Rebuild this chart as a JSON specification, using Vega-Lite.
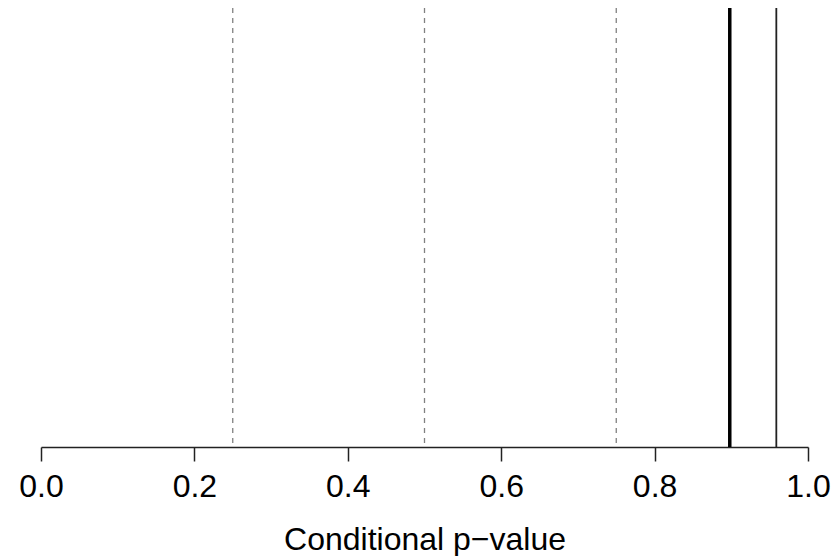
{
  "$schema": "https://vega.github.io/schema/vega-lite/v6.json",
  "autosize": "none",
  "width": 767,
  "height": 439,
  "padding": {"left": 41, "top": 8, "right": 25, "bottom": 109},
  "background": "white",
  "config": {"view": {"stroke": null}},
  "data": {
    "values": [
      {"value": 0.25, "kind": "quartile"},
      {"value": 0.5, "kind": "quartile"},
      {"value": 0.75, "kind": "quartile"},
      {"value": 0.898, "kind": "thick"},
      {"value": 0.9587, "kind": "thin"}
    ]
  },
  "layer": [
    {
      "transform": [{"filter": "datum.kind === 'quartile'"}],
      "mark": {"type": "rule", "color": "#808080", "strokeWidth": 1.3, "strokeDash": [5, 5]},
      "encoding": {
        "x": {
          "field": "value",
          "type": "quantitative",
          "scale": {"domain": [0, 1], "nice": false, "zero": false},
          "axis": {
            "values": [0, 0.2, 0.4, 0.6, 0.8, 1.0],
            "format": ".1f",
            "grid": false,
            "domainColor": "#222222",
            "domainWidth": 1.5,
            "tickColor": "#222222",
            "tickWidth": 1.5,
            "tickSize": 14,
            "labelFont": "Liberation Sans",
            "labelFontSize": 32,
            "labelColor": "black",
            "labelPadding": 10,
            "labelFlush": false,
            "title": "Conditional p−value",
            "titleFont": "Liberation Sans",
            "titleFontSize": 32,
            "titleFontWeight": "normal",
            "titleColor": "black",
            "titlePadding": 22
          }
        }
      }
    },
    {
      "transform": [{"filter": "datum.kind === 'thick'"}],
      "mark": {"type": "rule", "color": "black", "strokeWidth": 3.5},
      "encoding": {"x": {"field": "value", "type": "quantitative"}}
    },
    {
      "transform": [{"filter": "datum.kind === 'thin'"}],
      "mark": {"type": "rule", "color": "#222222", "strokeWidth": 1.8},
      "encoding": {"x": {"field": "value", "type": "quantitative"}}
    }
  ]
}
